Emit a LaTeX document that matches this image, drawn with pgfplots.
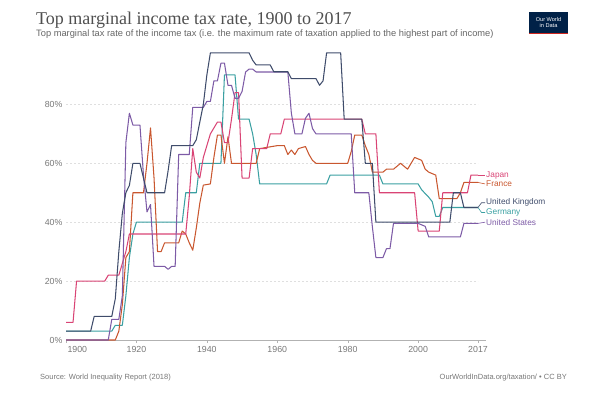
\documentclass[border=0pt]{standalone}
\usepackage{pgfplots}
\pgfplotsset{compat=1.18}
\usepackage{fontspec}
\setmainfont{Liberation Sans}
\newfontfamily\titlefont{Liberation Serif}
\definecolor{cJP}{HTML}{D94475}
\definecolor{cFR}{HTML}{C9572F}
\definecolor{cUK}{HTML}{3F4C6B}
\definecolor{cDE}{HTML}{3AA0A2}
\definecolor{cUS}{HTML}{7D5BA6}
\definecolor{titlegray}{HTML}{4F4F4F}
\definecolor{subgray}{HTML}{666666}
\definecolor{tickgray}{HTML}{777777}
\definecolor{owidblue}{HTML}{002147}
\definecolor{owidred}{HTML}{CE261E}
\begin{document}
\begin{tikzpicture}
\path[use as bounding box] (0pt,0pt) rectangle (600pt,-393pt);
\node[anchor=base west, inner sep=0, text=titlegray, font=\titlefont\fontsize{18}{18}\selectfont] at (36pt,-25pt) {Top marginal income tax rate, 1900 to 2017};
\node[anchor=base west, inner sep=0, text=subgray, font=\fontsize{9.3}{9.5}\selectfont] at (36pt,-37pt) {Top marginal tax rate of the income tax (i.e. the maximum rate of taxation applied to the highest part of income)};
\fill[owidblue] (529pt,-12pt) rectangle (568pt,-33pt);
\fill[owidred] (529pt,-33pt) rectangle (568pt,-34.5pt);
\node[font=\fontsize{5.6}{6.2}\selectfont, text=white, align=center, inner sep=0] at (548.5pt,-22.5pt) {Our World\\in Data};
\begin{axis}[
  at={(66pt,-340pt)}, anchor=south west,
  scale only axis, width=412pt, height=288.6pt,
  xmin=1900, xmax=2017, ymin=0, ymax=98,
  clip=false,
  axis x line*=bottom, axis y line*=left,
  axis line style={-},
  x axis line style={draw=gray!60, shorten >=-8pt},
  y axis line style={draw=none},
  ytick={0,20,40,60,80},
  yticklabel={\pgfmathprintnumber{\tick}\%},
  xtick={1920,1940,1960,1980,2000,2017},
  extra x ticks={1900},
  extra x tick style={tick label style={anchor=north west, xshift=-2pt}},
  xticklabel style={/pgf/number format/1000 sep={}},
  /pgf/number format/assume math mode=true,
  tick label style={font=\fontsize{8.8}{9}\selectfont, text=tickgray},
  xtick align=outside,
  x tick style={draw=gray!60},
  y tick style={draw=none},
  major tick length=3pt,
  ymajorgrids,
  grid style={gray!25, dash pattern=on 2pt off 2pt},
  every axis plot/.append style={no markers, line width=1.05pt, line join=round},
]
\addplot[cDE] coordinates {(1900,3)(1913,3)(1914,5)(1916,5)(1917,15)(1918,28)(1919,36)(1920,40)(1933,40)(1934,50)(1937,50)(1938,60)(1944,60)(1945,90)(1948,90)(1949,75)(1952,75)(1953,70)(1954,63)(1955,53)(1974,53)(1975,56)(1989,56)(1990,53)(2000,53)(2001,51)(2003,48.5)(2004,47)(2005,42)(2006,42)(2007,45)(2017,45)};
\addplot[cFR] coordinates {(1900,0)(1914,0)(1915,3)(1916,12)(1917,28)(1918,30)(1919,50)(1922,50)(1923,60)(1924,72)(1925,55)(1926,30)(1927,30)(1928,33)(1932,33)(1933,37)(1934,36)(1935,33)(1936,30.5)(1937,38)(1938,46.5)(1939,52.6)(1941,53)(1942,62)(1943,69.6)(1944,69.6)(1945,60)(1946,69)(1947,60)(1954,60)(1955,65)(1960,66)(1962,66)(1963,63)(1964,64.5)(1965,63)(1966,65)(1968,65.7)(1969,63)(1970,61)(1971,60)(1980,60)(1981,64)(1982,69.6)(1984,69.6)(1985,66)(1986,63)(1987,57)(1990,57)(1991,58)(1993,58)(1995,60)(1997,58)(1998,60)(1999,62)(2001,61)(2002,58)(2003,57)(2005,56)(2006,48)(2011,48)(2012,50)(2013,53.5)(2017,53.5)};
\addplot[cJP] coordinates {(1900,6)(1902,6)(1903,20)(1911,20)(1912,22)(1915,22)(1916,26)(1917,30)(1918,36)(1934,36)(1935,48.7)(1936,65)(1937,57)(1938,55)(1939,62)(1940,66)(1941,70)(1942,72)(1943,74)(1944,74)(1945,67)(1946,67)(1947,75)(1948,84)(1949,84)(1950,55)(1952,55)(1953,65)(1957,65)(1958,70)(1961,70)(1962,75)(1984,75)(1985,70)(1988,70)(1989,50)(1999,50)(2000,37)(2006,37)(2007,50)(2014,50)(2015,56)(2017,56)};
\addplot[cUS] coordinates {(1900,0)(1912,0)(1913,7)(1915,7)(1916,15)(1917,67)(1918,77)(1919,73)(1921,73)(1922,56)(1923,43.5)(1924,46)(1925,25)(1928,25)(1929,24)(1930,25)(1931,25)(1932,63)(1935,63)(1936,79)(1939,79)(1940,81)(1941,81)(1942,88)(1943,88)(1944,94)(1945,94)(1946,86.5)(1947,86.5)(1948,82.1)(1949,82.1)(1950,84.4)(1951,91)(1952,92)(1953,92)(1954,91)(1963,91)(1964,77)(1965,70)(1967,70)(1968,75.3)(1969,77)(1970,71.8)(1971,70)(1981,70)(1982,50)(1986,50)(1987,38.5)(1988,28)(1990,28)(1991,31)(1992,31)(1993,39.6)(2000,39.6)(2001,39.1)(2002,38.6)(2003,35)(2012,35)(2013,39.6)(2017,39.6)};
\addplot[cUK] coordinates {(1900,3)(1907,3)(1908,8)(1913,8)(1914,14)(1915,30)(1916,43)(1917,50)(1918,52.5)(1919,60)(1921,60)(1922,55)(1923,50)(1928,50)(1929,57.5)(1930,66)(1936,66)(1937,68)(1938,74)(1939,80)(1940,90)(1941,97.5)(1952,97.5)(1953,95)(1954,93.4)(1958,93.4)(1959,91.1)(1963,91.1)(1964,88.75)(1971,88.75)(1972,86.5)(1973,88)(1974,97.5)(1978,97.5)(1979,75)(1984,75)(1985,60)(1987,60)(1988,40)(2009,40)(2010,50)(2012,50)(2013,45)(2017,45)};
\draw[cJP, line width=0.6pt] (axis cs:2017,56) -- (axis cs:2019,56);
\draw[cFR, line width=0.6pt] (axis cs:2017,53.5) -- (axis cs:2019,53);
\draw[cUK, line width=0.6pt] (axis cs:2017,45) -- (axis cs:2018,46.6) -- (axis cs:2019,46.6);
\draw[cDE, line width=0.6pt] (axis cs:2017,45) -- (axis cs:2018,43.3) -- (axis cs:2019,43.3);
\draw[cUS, line width=0.6pt] (axis cs:2017,39.6) -- (axis cs:2019,40);
\node[anchor=west, inner sep=1pt, text=cJP, font=\fontsize{8.3}{8.3}\selectfont] at (axis cs:2019,56) {Japan};
\node[anchor=west, inner sep=1pt, text=cFR, font=\fontsize{8.3}{8.3}\selectfont] at (axis cs:2019,53) {France};
\node[anchor=west, inner sep=1pt, text=cUK, font=\fontsize{8.3}{8.3}\selectfont] at (axis cs:2019,46.6) {United Kingdom};
\node[anchor=west, inner sep=1pt, text=cDE, font=\fontsize{8.3}{8.3}\selectfont] at (axis cs:2019,43.3) {Germany};
\node[anchor=west, inner sep=1pt, text=cUS, font=\fontsize{8.3}{8.3}\selectfont] at (axis cs:2019,40) {United States};
\end{axis}
\node[anchor=base west, inner sep=0, text=tickgray, font=\fontsize{7.5}{8}\selectfont] at (40pt,-379pt) {Source: World Inequality Report (2018)};
\node[anchor=base east, inner sep=0, text=tickgray, font=\fontsize{7.5}{8}\selectfont] at (567pt,-379pt) {OurWorldInData.org/taxation/ • CC BY};
\end{tikzpicture}
\end{document}
